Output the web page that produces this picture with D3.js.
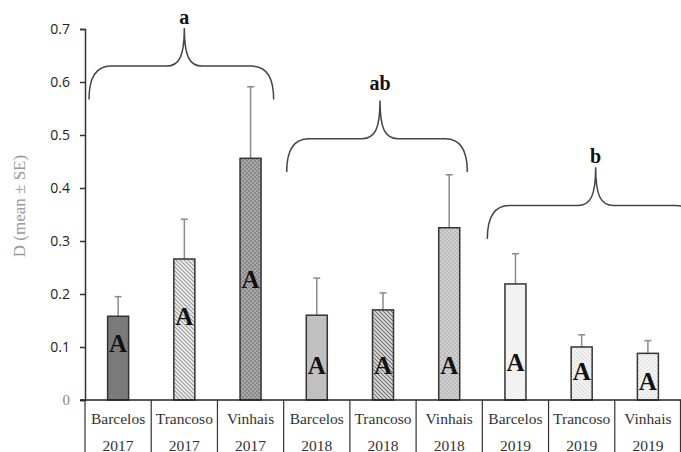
<!DOCTYPE html>
<html>
<head>
<meta charset="utf-8">
<script src="https://cdn.jsdelivr.net/npm/d3@7"></script>
<style>
  body { margin: 0; background: #fff; }
  svg { display: block; }
</style>
</head>
<body>
<svg id="chart" width="681" height="452"></svg>
<script>
// data
var sites = ['Barcelos', 'Trancoso', 'Vinhais', 'Barcelos', 'Trancoso', 'Vinhais', 'Barcelos', 'Trancoso', 'Vinhais'];
var years = ['2017', '2017', '2017', '2018', '2018', '2018', '2019', '2019', '2019'];
var means = [0.158, 0.266, 0.456, 0.160, 0.170, 0.325, 0.219, 0.100, 0.088];
var se = [0.037, 0.075, 0.135, 0.070, 0.032, 0.100, 0.057, 0.023, 0.024];
var sigLetters = ['A', 'A', 'A', 'A', 'A', 'A', 'A', 'A', 'A'];
var letterAt = [0.106, 0.157, 0.227, 0.066, 0.066, 0.066, 0.070, 0.053, 0.034];
var yTicks = [0, 0.1, 0.2, 0.3, 0.4, 0.5, 0.6, 0.7];
var groupLetters = ['a', 'ab', 'b'];
var groupFirst = [0, 3, 6];
var groupLast = [2, 5, 8];
var braceFoot = [0.567, 0.430, 0.304]; // y of brace ends

var svg = d3.select('#chart');
var defs = svg.append('defs');

var x = d3.scaleBand().domain(d3.range(sites.length)).range([85, 681]).padding(0);
var y = d3.scaleLinear().domain([0, 0.7]).range([400, 29]);
var bw = x.bandwidth();
var barW = 21;

// fills
function hatch(id, bg, fg) {
  var p = defs.append('pattern').attr('id', id).attr('patternUnits', 'userSpaceOnUse')
    .attr('width', 4).attr('height', 4);
  p.append('rect').attr('width', 4).attr('height', 4).attr('fill', bg);
  p.append('path').attr('d', 'M-1,-1 L5,5 M-1,3 L1,5 M3,-1 L5,1')
    .attr('stroke', fg).attr('stroke-width', 1.1);
}
function dots(id, bg, fg) {
  var p = defs.append('pattern').attr('id', id).attr('patternUnits', 'userSpaceOnUse')
    .attr('width', 4).attr('height', 4);
  p.append('rect').attr('width', 4).attr('height', 4).attr('fill', bg);
  p.append('rect').attr('width', 2).attr('height', 2).attr('fill', fg);
  p.append('rect').attr('x', 2).attr('y', 2).attr('width', 2).attr('height', 2).attr('fill', fg);
}
hatch('h17', '#eeeeee', '#9a9a9a');
hatch('h18', '#dddddd', '#6f6f6f');
hatch('h19', '#f4f4f4', '#dedede');
dots('d17', '#8a8a8a', '#a8a8a8');
dots('d18', '#cfcfcf', '#bdbdbd');
dots('d19', '#f4f4f4', '#e8e8e8');
var fills = ['#7a7a7a', 'url(#h17)', 'url(#d17)', '#c0c0c0', 'url(#h18)', 'url(#d18)', '#f2f2f2', 'url(#h19)', 'url(#d19)'];

// error bars (upper only)
var err = svg.append('g');
means.forEach(function (m, i) {
  var cx = x(i) + bw / 2;
  err.append('line').attr('x1', cx).attr('x2', cx)
    .attr('y1', y(m)).attr('y2', y(m + se[i]))
    .attr('stroke', '#8a8a8a').attr('stroke-width', 1.5);
  err.append('line').attr('x1', cx - 3.5).attr('x2', cx + 3.5)
    .attr('y1', y(m + se[i])).attr('y2', y(m + se[i]))
    .attr('stroke', '#8a8a8a').attr('stroke-width', 1.5);
});

// bars
svg.append('g').selectAll('rect').data(means).join('rect')
  .attr('x', function (d, i) { return x(i) + bw / 2 - barW / 2; })
  .attr('y', function (d) { return y(d); })
  .attr('width', barW)
  .attr('height', function (d) { return y(0) - y(d); })
  .attr('fill', function (d, i) { return fills[i]; })
  .attr('stroke', '#333').attr('stroke-width', 1.5);

// letters inside bars
svg.append('g').selectAll('text').data(sigLetters).join('text')
  .attr('x', function (d, i) { return x(i) + bw / 2; })
  .attr('y', function (d, i) { return y(letterAt[i]); })
  .attr('text-anchor', 'middle').attr('dominant-baseline', 'central')
  .style('font-family', '"Liberation Serif", "Times New Roman", serif')
  .style('font-weight', 'bold').style('font-size', '25px').attr('fill', '#111')
  .text(function (d) { return d; });

// y axis
var yAxis = svg.append('g').attr('transform', 'translate(85,0)')
  .call(d3.axisLeft(y).tickValues(yTicks).tickSize(5).tickPadding(10)
    .tickFormat(function (d) { return d === 0 ? '0' : d3.format('.1f')(d); }));
yAxis.select('.domain').attr('stroke', '#333').attr('stroke-width', 1.5);
yAxis.selectAll('.tick line').attr('stroke', '#333').attr('stroke-width', 1.5);
yAxis.selectAll('.tick text')
  .style('font-family', '"Open Sans", "Liberation Sans", sans-serif')
  .style('font-size', '14px').attr('fill', '#222');
yAxis.selectAll('.tick').filter(function (d) { return d === 0; }).select('text')
  .style('font-family', '"Liberation Serif", serif').style('font-size', '15px').attr('fill', '#888');

svg.append('text')
  .attr('transform', 'translate(19,206) rotate(-90)')
  .attr('text-anchor', 'middle').attr('dominant-baseline', 'central')
  .style('font-family', '"Liberation Serif", "Times New Roman", serif')
  .style('font-size', '17px').attr('fill', '#999')
  .text('D  (mean \u00b1 SE)');

// category table below the axis
svg.append('line').attr('x1', 80).attr('x2', 681).attr('y1', y(0)).attr('y2', y(0))
  .attr('stroke', '#222').attr('stroke-width', 1.5);
var cat = svg.append('g');
d3.range(sites.length + 1).forEach(function (i) {
  var xx = i < sites.length ? x(i) : x(sites.length - 1) + bw - 0.5;
  cat.append('line').attr('x1', xx).attr('x2', xx).attr('y1', y(0)).attr('y2', 452)
    .attr('stroke', '#333').attr('stroke-width', 1.2);
});
sites.forEach(function (s, i) {
  var cx = x(i) + bw / 2;
  cat.append('text').attr('x', cx).attr('y', 418).text(s);
  cat.append('text').attr('x', cx).attr('y', 445).text(years[i]);
});
cat.selectAll('text').attr('text-anchor', 'middle').attr('dominant-baseline', 'central')
  .style('font-family', '"Liberation Serif", "Times New Roman", serif')
  .style('font-size', '15.5px').attr('fill', '#333');

// braces over year groups
var padL = [4, 3, 5], padR = [-10, -15, 17];
function bracePath(x0, x1, yEnd, yH, yTip) {
  var xm = (x0 + x1) / 2 + 3;
  var r = 22, s = 18;
  return 'M' + x0 + ',' + yEnd +
    ' Q' + x0 + ',' + yH + ' ' + (x0 + r) + ',' + yH +
    ' L' + (xm - s) + ',' + yH +
    ' C' + (xm - 5) + ',' + yH + ' ' + xm + ',' + (yH - 10) + ' ' + xm + ',' + yTip +
    ' C' + xm + ',' + (yH - 10) + ' ' + (xm + 5) + ',' + yH + ' ' + (xm + s) + ',' + yH +
    ' L' + (x1 - r) + ',' + yH +
    ' Q' + x1 + ',' + yH + ' ' + x1 + ',' + yEnd;
}
var br = svg.append('g');
groupLetters.forEach(function (g, k) {
  var x0 = x(groupFirst[k]) + padL[k];
  var x1 = x(groupLast[k]) + bw + padR[k];
  var yEnd = y(braceFoot[k]), yH = y(braceFoot[k] + 0.063), yTip = y(braceFoot[k] + 0.135);
  br.append('path').attr('d', bracePath(x0, x1, yEnd, yH, yTip))
    .attr('fill', 'none').attr('stroke', '#444').attr('stroke-width', 1.5);
  br.append('text').attr('x', (x0 + x1) / 2 + 3).attr('y', yTip - (k === 1 ? 11 : 4))
    .attr('text-anchor', 'middle')
    .style('font-family', '"Liberation Serif", "Times New Roman", serif')
    .style('font-weight', 'bold').style('font-size', '20px').attr('fill', '#111')
    .text(g);
});
</script>
</body>
</html>
